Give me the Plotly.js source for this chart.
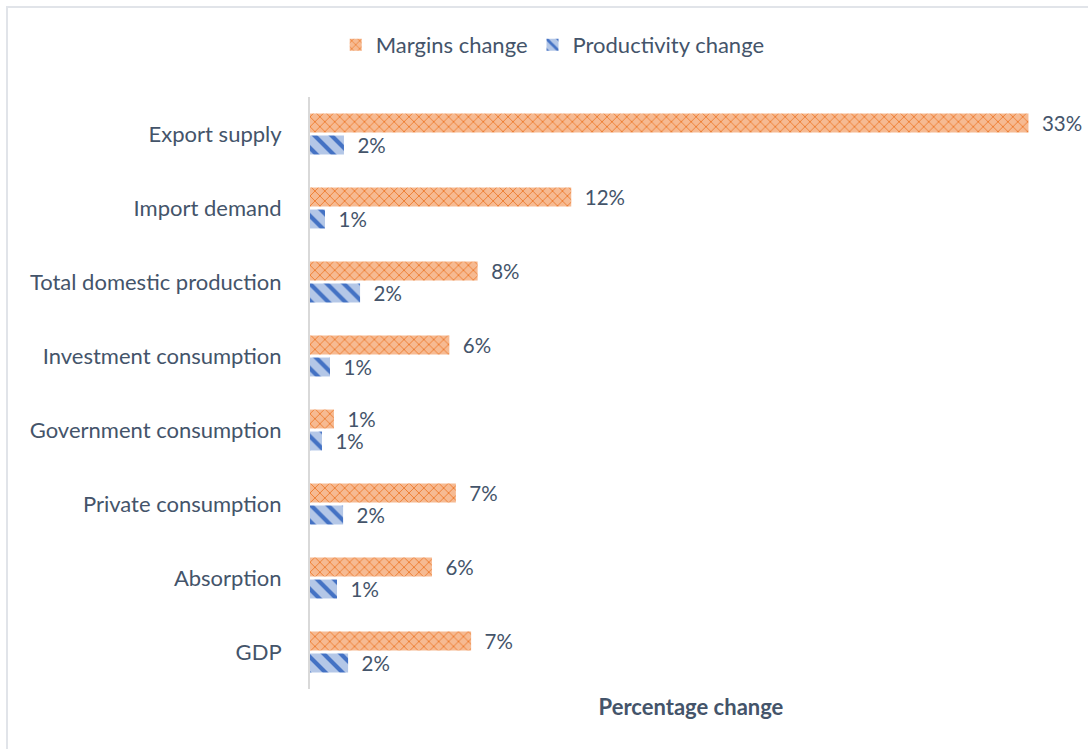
<!DOCTYPE html>
<html>
<head>
<meta charset="utf-8">
<script src="https://cdn.plot.ly/plotly-3.0.1.min.js"></script>
<style>
  html, body { margin: 0; padding: 0; background: #ffffff; }
  #wrap { position: relative; width: 1088px; height: 749px; overflow: hidden; }
  #chart { width: 1088px; height: 749px; }
  #frame { position: absolute; left: 6px; top: 6px; width: 1200px; height: 900px;
           border-left: 2px solid #e1e4e9; border-top: 2px solid #e1e4e9; pointer-events: none; }
</style>
</head>
<body>
<div id="wrap">
  <div id="chart"></div>
  <div id="frame"></div>
</div>
<script>
const categories = ["Export supply", "Import demand", "Total domestic production", "Investment consumption",
                    "Government consumption", "Private consumption", "Absorption", "GDP"];
const marginsChange = [0.330, 0.120, 0.077, 0.064, 0.011, 0.067, 0.056, 0.074];
const productivityChange = [0.0156, 0.0069, 0.0230, 0.0092, 0.0055, 0.0152, 0.0124, 0.0175];
const seriesNames = ["Margins change", "Productivity change"];

const FONT = "Lato, 'Liberation Sans', sans-serif";
const TXT = "#44546A";
const pad = "\u00a0\u00a0";
const FS = 22;
const LS = 20.5;

const traces = [
  {
    type: "bar", orientation: "h", name: seriesNames[0],
    y: categories, x: marginsChange,
    texttemplate: pad + "%{x:.0%}", textposition: "outside", cliponaxis: false, constraintext: "none",
    textfont: { family: FONT, size: LS, color: TXT },
    hoverinfo: "skip",
    marker: { color: "#F4B183", line: { width: 0 },
              pattern: { shape: "x", size: 7, solidity: 0.25, fgcolor: "#ED7D31", bgcolor: "#F6BA92", fillmode: "replace" } }
  },
  {
    type: "bar", orientation: "h", name: seriesNames[1],
    y: categories, x: productivityChange,
    texttemplate: pad + "%{x:.0%}", textposition: "outside", cliponaxis: false, constraintext: "none",
    textfont: { family: FONT, size: LS, color: TXT },
    hoverinfo: "skip",
    marker: { color: "#B4C7E7", line: { width: 0 },
              pattern: { shape: "\\", size: 12, solidity: 0.35, fgcolor: "#4472C4", bgcolor: "#B4C7E7", fillmode: "replace" } }
  }
];

const layout = {
  width: 1088, height: 749,
  paper_bgcolor: "#ffffff", plot_bgcolor: "#ffffff",
  margin: { l: 310, r: 16, t: 97, b: 60 },
  barmode: "group", bargap: 0.405, bargroupgap: 0.14,
  font: { family: FONT, size: FS, color: TXT },
  showlegend: true,
  legend: { orientation: "h", xref: "container", yref: "container", x: 0.508, xanchor: "center",
            y: 0.94, yanchor: "middle", font: { family: FONT, size: FS, color: TXT },
            itemwidth: 30, traceorder: "normal" },
  xaxis: { range: [0, 0.35], showticklabels: false, showgrid: false, zeroline: false, showline: false,
           ticks: "", fixedrange: true,
           title: { text: "<b>Percentage change</b>", font: { family: FONT, size: FS, color: TXT }, standoff: 10 } },
  yaxis: { autorange: "reversed", showgrid: false, zeroline: false, showline: true,
           linecolor: "#d9d9d9", linewidth: 2, ticks: "outside", ticklen: 22, tickcolor: "rgba(0,0,0,0)",
           tickfont: { family: FONT, size: FS, color: TXT }, fixedrange: true }
};

Plotly.newPlot("chart", traces, layout, { displayModeBar: false, staticPlot: true });
</script>
</body>
</html>
